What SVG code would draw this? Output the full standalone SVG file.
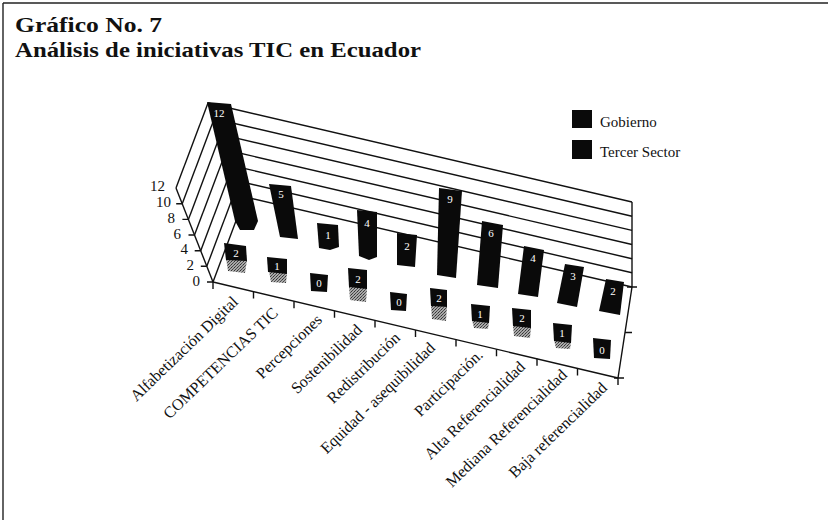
<svg xmlns="http://www.w3.org/2000/svg" width="828" height="520" viewBox="0 0 828 520">
<style>
.title{font-family:"Liberation Serif","DejaVu Serif",serif;font-weight:bold;font-size:22px;fill:#111}
.lab{font-family:"Liberation Serif","DejaVu Serif",serif;font-size:16px;fill:#111}
.leg{font-family:"Liberation Serif","DejaVu Serif",serif;font-size:15px;fill:#111}
.ax{font-family:"Liberation Serif","DejaVu Serif",serif;font-size:15px;fill:#111;text-anchor:end}
.val{font-family:"Liberation Serif","DejaVu Serif",serif;font-size:11px;fill:#fff;text-anchor:middle}
.ln{stroke:#111;stroke-width:1.4;fill:none}
.bar{fill:#0a0a0a}
</style>
<defs>
<pattern id="dith" width="3" height="3" patternUnits="userSpaceOnUse">
<rect width="3" height="3" fill="#a8a8a8"/>
<rect width="1" height="1" fill="#333"/>
<rect x="2" y="1" width="1" height="1" fill="#555"/>
<rect x="1" y="2" width="1" height="1" fill="#444"/>
</pattern>
</defs>
<rect width="828" height="520" fill="#fff"/>
<g id="frame">
<line x1="3" y1="3" x2="828" y2="3" stroke="#222" stroke-width="1.6"/>
<line x1="3" y1="3" x2="3" y2="520" stroke="#222" stroke-width="1.4"/>
</g>
<g id="title">
<text class="title" x="15" y="32" textLength="147" lengthAdjust="spacingAndGlyphs">Gráfico No. 7</text>
<text class="title" x="15" y="57" textLength="406" lengthAdjust="spacingAndGlyphs">Análisis de iniciativas TIC en Ecuador</text>
</g>
<g id="legend">
<rect x="572" y="110" width="20" height="18" fill="#0a0a0a"/>
<text class="leg" x="600" y="127">Gobierno</text>
<rect x="572" y="140" width="20" height="19" fill="#0a0a0a"/>
<text class="leg" x="600" y="157">Tercer Sector</text>
</g>
<g id="connectors">
<line class="ln" x1="245" y1="197" x2="632" y2="287"/>
<line class="ln" x1="238.8" y1="181.3" x2="632" y2="272.8"/>
<line class="ln" x1="232.7" y1="165.7" x2="632" y2="258.7"/>
<line class="ln" x1="226.5" y1="150" x2="632" y2="244.5"/>
<line class="ln" x1="220.4" y1="134.4" x2="632" y2="230.4"/>
<line class="ln" x1="214.2" y1="118.7" x2="632" y2="216.2"/>
<line class="ln" x1="208" y1="103" x2="632" y2="202"/>
<line class="ln" x1="245" y1="197" x2="208" y2="103"/>
<line class="ln" x1="632" y1="202" x2="632" y2="287"/>
<line class="ln" x1="213" y1="282" x2="245" y2="197"/>
<line class="ln" x1="206.8" y1="266.3" x2="238.8" y2="181.3"/>
<line class="ln" x1="200.7" y1="250.7" x2="232.7" y2="165.7"/>
<line class="ln" x1="194.5" y1="235" x2="226.5" y2="150"/>
<line class="ln" x1="188.4" y1="219.4" x2="220.4" y2="134.4"/>
<line class="ln" x1="182.2" y1="203.7" x2="214.2" y2="118.7"/>
<line class="ln" x1="176" y1="188" x2="208" y2="103"/>
<line class="ln" x1="213" y1="282" x2="176" y2="188"/>
<path class="ln" d="M213 282h-6M206.8 266.3h-6M200.7 250.7h-6M194.5 235h-6M188.4 219.4h-6M182.2 203.7h-6"/>
</g>
<g id="bars-gobierno">
<g id="g1"><polygon class="bar" points="207,102 231,104 258,221 254,230 240,230 235,221"/><text class="val" x="219" y="117">12</text></g>
<g id="g2"><polygon class="bar" points="269,184 291,186 298,239 280,237"/><text class="val" x="281" y="198">5</text></g>
<g id="g3"><polygon class="bar" points="317,223 338,225 339,247 330,250 319,248"/><text class="val" x="328" y="239">1</text></g>
<g id="g4"><polygon class="bar" points="357,210 377,212 377,257 369,260 359,256"/><text class="val" x="367" y="227">4</text></g>
<g id="g5"><polygon class="bar" points="397,233 417,235 415,267 397,265"/><text class="val" x="407" y="250">2</text></g>
<g id="g6"><polygon class="bar" points="439,188 462,191 456,278 437,275"/><text class="val" x="450" y="203">9</text></g>
<g id="g7"><polygon class="bar" points="482,221 503,225 498,288 477,285"/><text class="val" x="491" y="237">6</text></g>
<g id="g8"><polygon class="bar" points="524,246 544,250 538,297 518,294"/><text class="val" x="533" y="262">4</text></g>
<g id="g9"><polygon class="bar" points="565,264 584,267 577,307 557,303"/><text class="val" x="573" y="280">3</text></g>
<g id="g10"><polygon class="bar" points="606,279 624,282 620,315 599,311"/><text class="val" x="613" y="295">2</text></g>
</g>
<g id="bars-tercer">
<g id="t1"><polygon fill="url(#dith)" points="226,258 247,260 245,273 228,271"/><polygon class="bar" points="224,243 246,246 247,261 226,260"/><text class="val" x="236" y="257">2</text></g>
<g id="t2"><polygon fill="url(#dith)" points="269,271 287,273 286,283 271,282"/><polygon class="bar" points="267,257 287,259 287,274 268,272"/><text class="val" x="277" y="270">1</text></g>
<g id="t3"><polygon class="bar" points="310,273 328,275 327,292 311,291"/><text class="val" x="319" y="287">0</text></g>
<g id="t4"><polygon fill="url(#dith)" points="349,286 367,288 366,302 350,300"/><polygon class="bar" points="348,268 367,270 367,289 349,287"/><text class="val" x="358" y="283">2</text></g>
<g id="t5"><polygon class="bar" points="390,292 407,294 406,311 391,310"/><text class="val" x="399" y="306">0</text></g>
<g id="t6"><polygon fill="url(#dith)" points="431,305 447,307 446,321 432,319"/><polygon class="bar" points="430,288 447,290 447,307 431,306"/><text class="val" x="439" y="302">2</text></g>
<g id="t7"><polygon fill="url(#dith)" points="472,320 489,322 488,329 474,328"/><polygon class="bar" points="471,304 490,306 489,323 472,321"/><text class="val" x="480" y="318">1</text></g>
<g id="t8"><polygon fill="url(#dith)" points="513,325 531,327 530,338 514,336"/><polygon class="bar" points="512,308 531,310 531,328 513,326"/><text class="val" x="522" y="322">2</text></g>
<g id="t9"><polygon fill="url(#dith)" points="554,340 571,342 570,349 556,348"/><polygon class="bar" points="553,323 572,325 571,343 554,341"/><text class="val" x="562" y="337">1</text></g>
<g id="t10"><polygon class="bar" points="593,338 611,340 610,359 594,358"/><text class="val" x="602" y="354">0</text></g>
</g>
<g id="floor">
<line class="ln" x1="213" y1="282" x2="618" y2="378"/>
<line class="ln" x1="618" y1="378" x2="632" y2="287"/>
<path class="ln" d="M213 282v7M253.5 291.6v7M294 301.2v7M334.5 310.8v7M375 320.4v7M415.5 330v7M456 339.6v7M496.5 349.2v7M537 358.8v7M577.5 368.4v7M618 378v7M627 287h10M625 332.5h7M614 378h10"/>
</g>
<g id="axis-labels">
<text class="ax" x="200" y="286">0</text>
<text class="ax" x="194" y="270">2</text>
<text class="ax" x="188" y="254">4</text>
<text class="ax" x="181" y="239">6</text>
<text class="ax" x="175" y="223">8</text>
<text class="ax" x="171" y="207">10</text>
<text class="ax" x="165" y="191">12</text>
</g>
<g id="category-labels" class="lab" text-anchor="end">
<text transform="translate(239,303) rotate(-44)">Alfabetización Digital</text>
<text transform="translate(279,314) rotate(-44)">COMPETENCIAS TIC</text>
<text transform="translate(323,321) rotate(-44)">Percepciones</text>
<text transform="translate(363,331) rotate(-44)">Sostenibilidad</text>
<text transform="translate(401,339) rotate(-44)">Redistribución</text>
<text transform="translate(436,349) rotate(-44)">Equidad - asequibilidad</text>
<text transform="translate(484,356) rotate(-44)">Participación.</text>
<text transform="translate(526,368) rotate(-44)">Alta Referencialidad</text>
<text transform="translate(568,376) rotate(-44)">Mediana Referencialidad</text>
<text transform="translate(608,389) rotate(-44)">Baja referencialidad</text>
</g>
</svg>
